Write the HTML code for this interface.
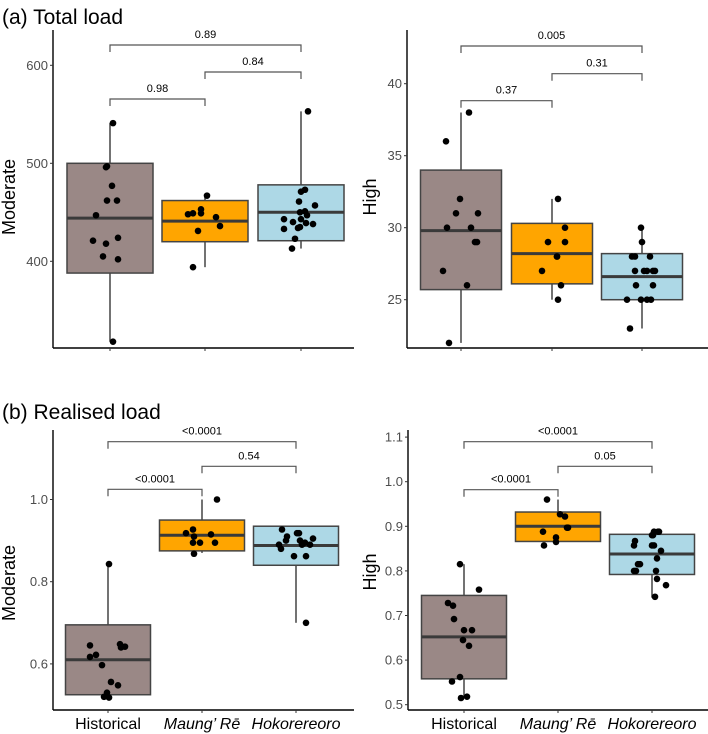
<!DOCTYPE html>
<html><head><meta charset="utf-8">
<style>
body{margin:0;background:#fff;}
svg{display:block;font-family:"Liberation Sans",Arial,sans-serif;}
</style></head>
<body>
<svg id="chart" width="708" height="734" viewBox="0 0 708 734" xmlns="http://www.w3.org/2000/svg">
<text x="2" y="24" font-size="21" fill="#000">(a)  Total load</text>
<text x="2" y="419" font-size="21" fill="#000">(b)  Realised load</text>
</svg>
<script>
const categories = ["Historical", "Maung\u2019 R\u0113", "Hokorereoro"];
// Panel A Moderate
const aModTicks = [400, 500, 600];
const aModBox = [[318, 388, 444, 500, 541], [394, 420, 441, 462, 467], [413, 421, 450, 478, 553]];
const aModPts = [[318,541,496,497,477,462,462,447,421,418,424,405,402],[467,448,449,453,449,445,436,431,394],[553,471,473,461,457,443,450,451,447,440,443,438,433,434,435,439,423,413]];
const aModJit = [[3,3,-4,-3,2,-3,7,-14,-17,-4,8,-7,8],[2,-17,-12,-4,-4,11,15,-7,-12],[7,0,4,-2,14,-17,-1,4,6,-8,0,12,-17,-3,-1,5,-6,-9]];
const aModSig = ["0.98", "0.84", "0.89"];
// Panel A High
const aHighTicks = [25, 30, 35, 40];
const aHighBox = [[22, 25.7, 29.8, 34, 38], [25, 26.1, 28.2, 30.3, 32], [23, 25, 26.6, 28.2, 30]];
const aHighPts = [[38,36,32,31,31,30,30,29,29,27,26,22],[32,30,29,29,28,28,27,26,25],[30,29,28,28,28,27,27,27,27,27,26,26,25,25,25,25,23]];
const aHighJit = [[8,-15,-1,-5,17,-14,10,14,16,-18,6,-12],[6,13,-4,13,5,5,-10,9,6],[-1,0,-10,-7,8,-7,2,5,11,13,-6,11,-15,-1,5,9,-12]];
const aHighSig = ["0.37", "0.31", "0.005"];
// Panel B Moderate
const bModTicks = [0.6, 0.8, 1.0];
const bModBox = [[0.52, 0.525, 0.61, 0.695, 0.843], [0.87, 0.875, 0.913, 0.95, 1.0], [0.7, 0.84, 0.888, 0.935, 0.935]];
const bModPts = [[0.843,0.645,0.648,0.642,0.64,0.622,0.617,0.597,0.556,0.548,0.53,0.52,0.518],[1.0,0.927,0.918,0.915,0.91,0.895,0.895,0.895,0.868],[0.927,0.918,0.918,0.91,0.905,0.9,0.9,0.895,0.89,0.89,0.89,0.88,0.862,0.862,0.7]];
const bModJit = [[1,-18,12,17,13,-12,-18,-6,3,10,-1,-4,1],[15,-9,-16,9,-8,-9,-2,13,-8],[-14,1,3,-9,17,-10,4,9,-17,6,14,-15,-2,10,10]];
const bModSig = ["<0.0001", "0.54", "<0.0001"];
// Panel B High
const bHighTicks = [0.5, 0.6, 0.7, 0.8, 0.9, 1.0, 1.1];
const bHighBox = [[0.515, 0.558, 0.652, 0.745, 0.815], [0.86, 0.866, 0.9, 0.932, 0.96], [0.74, 0.792, 0.838, 0.882, 0.89]];
const bHighPts = [[0.815,0.758,0.728,0.722,0.692,0.667,0.667,0.645,0.632,0.562,0.552,0.518,0.515],[0.96,0.927,0.922,0.897,0.897,0.888,0.875,0.865,0.857],[0.888,0.888,0.888,0.88,0.88,0.867,0.857,0.857,0.857,0.845,0.828,0.815,0.815,0.8,0.8,0.8,0.782,0.768,0.742]];
const bHighJit = [[-4,15,-16,-11,-10,0,8,-1,5,-4,-12,3,-3],[-11,2,7,9,10,-15,-2,-2,-14],[2,6,7,0,1,-17,-18,0,2,9,5,-14,-12,-18,-16,4,5,14,3]];
const bHighSig = ["<0.0001", "0.05", "<0.0001"];

const colors = ["#9a8886", "#FFA500", "#ADD8E6"];
const NS = "http://www.w3.org/2000/svg";
const svg = document.getElementById("chart");
function mk(tag, attrs, parent){const e=document.createElementNS(NS,tag);for(const k in attrs)e.setAttribute(k,attrs[k]);(parent||svg).appendChild(e);return e;}

function drawPanel(p){
  const g = mk("g", {});
  
  
  const y = v => p.y0 + (v - p.v0) * p.k;
  // axes
  const ax = mk("line",{x1:p.ax,y1:p.top,x2:p.ax,y2:p.bottom,stroke:"#000","stroke-width":1.4},g);
  
  
  const xa = mk("line",{x1:p.ax,y1:p.bottom,x2:p.right,y2:p.bottom,stroke:"#000","stroke-width":1.4},g);
  
  
  p.ticks.forEach(t=>{
    mk("line",{x1:p.ax-3,y1:y(t),x2:p.ax,y2:y(t),stroke:"#333"},g);
    const tl = mk("text",{x:p.ax-5,y:y(t)+4.5,"font-size":13,fill:"#4d4d4d","text-anchor":"end"},g);
    tl.textContent = Number.isInteger(t) && p.intTicks ? String(t) : t.toFixed(p.dec);
    
    
  });
  const yt = mk("text",{x:0,y:0,"font-size":18,fill:"#000","text-anchor":"middle",transform:`translate(${p.ytx},${p.yty}) rotate(-90)`},g);
  yt.textContent = p.ytitle;
  
  
  p.cx.forEach((cx,i)=>{
    mk("line",{x1:cx,y1:p.bottom,x2:cx,y2:p.bottom+3,stroke:"#333"},g);
    if(p.xlabels){
      const xl = mk("text",{x:cx,y:729,"font-size":16,fill:"#000","text-anchor":"middle","font-style":i>0?"italic":"normal"},g);
      xl.textContent = categories[i];
      
      
    }
    const b = p.box[i], hw = p.bw/2;
    mk("line",{x1:cx,y1:y(b[0]),x2:cx,y2:y(b[1]),stroke:"#444","stroke-width":1.5},g);
    mk("line",{x1:cx,y1:y(b[3]),x2:cx,y2:y(b[4]),stroke:"#444","stroke-width":1.5},g);
    const r = mk("rect",{x:cx-hw,y:y(b[3]),width:p.bw,height:y(b[1])-y(b[3]),fill:colors[i],stroke:"#444","stroke-width":1.5},g);
    
    
    mk("line",{x1:cx-hw,y1:y(b[2]),x2:cx+hw,y2:y(b[2]),stroke:"#3a3a3a","stroke-width":3},g);
    p.pts[i].forEach((v,j)=>{
      const c = mk("circle",{cx:cx+p.jit[i][j],cy:y(v),r:3.3,fill:"#000"},g);
      
      
    });
  });
  // significance brackets: [0-1], [1-2], [0-2]
  const pairs = [[0,1],[1,2],[0,2]];
  pairs.forEach((pr,i)=>{
    const by = p.by[i], x1=p.cx[pr[0]], x2=p.cx[pr[1]];
    const br = mk("path",{d:`M${x1},${by+7}V${by}H${x2}V${by+7}`,fill:"none",stroke:"#555","stroke-width":1.2},g);
    
    
    const st = mk("text",{x:(x1+x2)/2,y:by-7,"font-size":11,fill:"#000","text-anchor":"middle"},g);
    st.textContent = p.sig[i];
    
    
  });
}

drawPanel({name:"panel-a-moderate",ax:53,top:30,bottom:348,right:354,y0:163.3,v0:500,k:-0.98,ticks:aModTicks,dec:0,intTicks:true,
  ytitle:"Moderate",ytx:15,yty:197,cx:[110,205,301],bw:86,box:aModBox,pts:aModPts,jit:aModJit,by:[99,72,45],sig:aModSig,xlabels:false});
drawPanel({name:"panel-a-high",ax:407,top:30,bottom:348,right:708,y0:227.7,v0:30,k:-14.4,ticks:aHighTicks,dec:0,intTicks:true,
  ytitle:"High",ytx:376,yty:197,cx:[461,552,642],bw:81,box:aHighBox,pts:aHighPts,jit:aHighJit,by:[100.7,73.7,46],sig:aHighSig,xlabels:false});
drawPanel({name:"panel-b-moderate",ax:53,top:430,bottom:710,right:354,y0:581.7,v0:0.8,k:-411,ticks:bModTicks,dec:1,intTicks:false,
  ytitle:"Moderate",ytx:15,yty:583,cx:[108,202,296],bw:85,box:bModBox,pts:bModPts,jit:bModJit,by:[489.3,466.3,441.7],sig:bModSig,xlabels:true});
drawPanel({name:"panel-b-high",ax:408,top:430,bottom:710,right:708,y0:481.7,v0:1.0,k:-446,ticks:bHighTicks,dec:1,intTicks:false,
  ytitle:"High",ytx:376,yty:572,cx:[464,558,652],bw:85,box:bHighBox,pts:bHighPts,jit:bHighJit,by:[489.7,466.3,441.7],sig:bHighSig,xlabels:true});
</script>
</body></html>
